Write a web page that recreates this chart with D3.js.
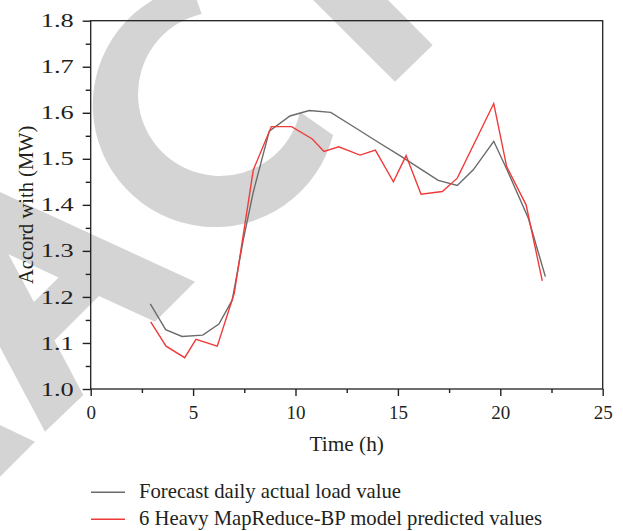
<!DOCTYPE html>
<html>
<head>
    <meta charset="utf-8" />
    <title>Accord with (MW)</title>
    <script src="https://cdn.jsdelivr.net/npm/d3@7"></script>
    <style>
        body { margin: 0; background: #fff; }
        text { font-family: "Liberation Serif", "Times New Roman", serif; fill: #231f20; }
    </style>
</head>
<body>
</body>
<script charset="utf-8">

    // time (h) and load (MW)
    var actualTime = [2.91, 3.66, 4.46, 5.47, 6.26, 6.91, 7.45, 7.94, 8.72, 9.73, 10.67, 11.72, 12.9, 14.0, 15.1, 16.1, 16.97, 17.9, 18.68, 19.68, 20.31, 21.37, 22.2];
    var actualLoad = [1.185, 1.129, 1.114, 1.117, 1.141, 1.193, 1.324, 1.428, 1.560, 1.593, 1.605, 1.601, 1.568, 1.537, 1.507, 1.478, 1.453, 1.442, 1.476, 1.538, 1.478, 1.371, 1.244];

    var predTime = [2.93, 3.68, 4.59, 5.14, 6.18, 7.01, 7.94, 8.82, 9.81, 10.82, 11.39, 12.11, 13.15, 13.90, 14.78, 15.40, 16.13, 17.17, 17.90, 19.68, 20.31, 21.26, 22.05];
    var predLoad = [1.146, 1.093, 1.068, 1.108, 1.093, 1.208, 1.476, 1.570, 1.570, 1.543, 1.516, 1.526, 1.508, 1.519, 1.450, 1.507, 1.423, 1.429, 1.458, 1.620, 1.483, 1.400, 1.235];

    var xTicks = [0, 5, 10, 15, 20, 25];
    var yTicks = [1.0, 1.1, 1.2, 1.3, 1.4, 1.5, 1.6, 1.7, 1.8];
    var seriesNames = ['Forecast daily actual load value', '6 Heavy MapReduce-BP model predicted values'];
    var seriesColors = ['#6b6b6b', '#f03a3a'];

    var width = 623;
    var height = 531;
    var svg = d3.select('body').append('svg').attr('width', width).attr('height', height);

    // big grey watermark letters (A, C, T) behind the chart
    var wm = svg.append('g').attr('fill', '#d4d4d4');
    wm.append('path')
        .attr('fill-rule', 'evenodd')
        .attr('d', 'M-109,142 L195,281.7 L155,321.7 L99,296 L54.4,340.6 L83.3,395 L45,431.7 Z ' +
                   'M8.5,254.3 L58.6,277.4 L33.9,302.1 Z');
    wm.append('path').attr('d', 'M-50,401 L35,441.7 L-30,506.7 L-50,506.7 Z');
    wm.append('path').attr('d', 'M191.5,-14.7 A122,122 0 1,0 333,135 L300,112 A82,82 0 1,1 201.7,14 Z');
    wm.append('path').attr('d', 'M290,-23 L365,-23 L432.7,45 L395,81.7 Z');

    var pLeft = 90.7, pRight = 602.7, pTop = 20.7, pBottom = 389;
    var x = d3.scaleLinear().domain([0, 25]).range([pLeft, pRight]);
    var y = d3.scaleLinear().domain([1.0, 1.8]).range([pBottom, pTop]);

    // frame
    svg.append('rect')
        .attr('x', pLeft).attr('y', pTop)
        .attr('width', pRight - pLeft).attr('height', pBottom - pTop)
        .attr('fill', 'none').attr('stroke', '#231f20').attr('stroke-width', 1.3);

    // x axis, minor ticks then major ticks
    var xMinor = svg.append('g').attr('transform', 'translate(0,' + pBottom + ')')
        .call(d3.axisBottom(x).tickValues([2.5, 7.5, 12.5, 17.5, 22.5]).tickSize(4).tickFormat(''));
    var xAxis = svg.append('g').attr('transform', 'translate(0,' + pBottom + ')')
        .call(d3.axisBottom(x).tickValues(xTicks).tickSize(7).tickPadding(10).tickFormat(d3.format('d')));

    var yMinor = svg.append('g').attr('transform', 'translate(' + pLeft + ',0)')
        .call(d3.axisLeft(y).tickValues([1.05, 1.15, 1.25, 1.35, 1.45, 1.55, 1.65, 1.75]).tickSize(5).tickFormat(''));
    var yAxis = svg.append('g').attr('transform', 'translate(' + pLeft + ',0)')
        .call(d3.axisLeft(y).tickValues(yTicks).tickSize(8).tickPadding(9).tickFormat(d3.format('.1f')));

    [xMinor, xAxis, yMinor, yAxis].forEach(function(g) {
        g.select('.domain').remove();
        g.selectAll('line').attr('stroke', '#231f20').attr('stroke-width', 1.4);
        g.selectAll('text').attr('font-family', '"Liberation Serif", serif').attr('font-size', '19px').attr('fill', '#231f20');
    });
    yAxis.selectAll('text').attr('textLength', 33).attr('lengthAdjust', 'spacingAndGlyphs');

    // axis titles
    svg.append('text').text('Time (h)')
        .attr('x', (pLeft + pRight) / 2).attr('y', 450.5)
        .attr('text-anchor', 'middle').attr('font-size', '21.3px');
    svg.append('text').text('Accord with (MW)')
        .attr('transform', 'translate(33,' + (pTop + pBottom) / 2 + ') rotate(-90)')
        .attr('text-anchor', 'middle').attr('font-size', '20.5px');

    // lines
    var line = d3.line().x(function(d) { return x(d[0]); }).y(function(d) { return y(d[1]); });
    var series = [d3.zip(actualTime, actualLoad), d3.zip(predTime, predLoad)];
    svg.selectAll('path.series').data(series).enter().append('path')
        .attr('class', 'series')
        .attr('d', line)
        .attr('fill', 'none')
        .attr('stroke', function(d, i) { return seriesColors[i]; })
        .attr('stroke-width', 1.4)
        .attr('stroke-linejoin', 'miter');

    // legend
    var legend = svg.selectAll('g.legend').data(seriesNames).enter().append('g')
        .attr('class', 'legend')
        .attr('transform', function(d, i) { return 'translate(91,' + (492.3 + i * 27) + ')'; });
    legend.append('line')
        .attr('x1', 0).attr('x2', 34).attr('y1', 0).attr('y2', 0)
        .attr('stroke', function(d, i) { return seriesColors[i]; })
        .attr('stroke-width', 1.4);
    legend.append('text').text(function(d) { return d; })
        .attr('x', 48).attr('y', 6)
        .attr('font-size', '20.7px');

</script>
</html>
